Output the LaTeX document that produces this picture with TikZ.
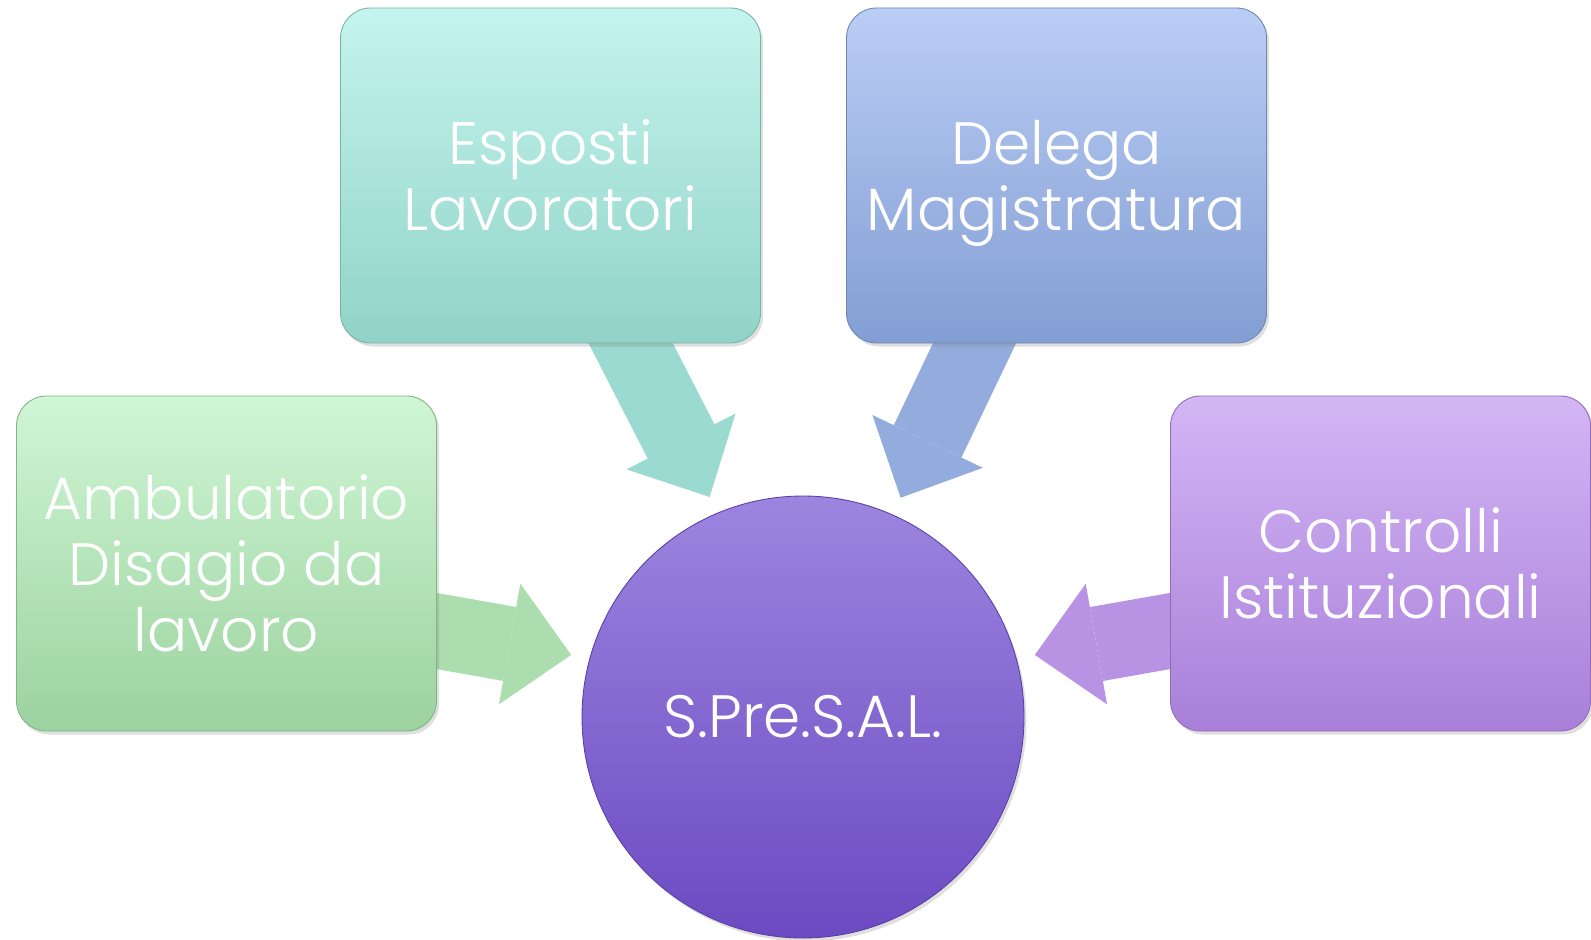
\documentclass[tikz,border=0pt]{standalone}
\usepackage{fontspec}
\setmainfont{Poppins}[UprightFont=* Light]
\usetikzlibrary{arrows.meta,calc,shadows,backgrounds}

\definecolor{ambtop}{HTML}{CFF6D5}
\definecolor{ambbot}{HTML}{9CD29F}
\definecolor{esptop}{HTML}{C4F4EE}
\definecolor{espbot}{HTML}{91D3C8}
\definecolor{deltop}{HTML}{BACDF5}
\definecolor{delbot}{HTML}{839ED3}
\definecolor{contop}{HTML}{D3B6F5}
\definecolor{conbot}{HTML}{A97FD9}
\definecolor{sprtop}{HTML}{9C85DF}
\definecolor{sprbot}{HTML}{6C4AC2}

\begin{document}
\begin{tikzpicture}[
    box/.style 2 args={
        rounded corners=0.6cm, minimum width=8.4cm, minimum height=6.7cm,
        top color=#1, bottom color=#2, draw=#2!85!black, line width=0.5pt,
        drop shadow={opacity=0.25, shadow xshift=0.05cm, shadow yshift=-0.07cm}
    },
    hub/.style={
        circle, minimum size=8.84cm, top color=sprtop, bottom color=sprbot,
        draw=sprbot!85!black, line width=0.5pt,
        drop shadow={opacity=0.25, shadow xshift=0.05cm, shadow yshift=-0.07cm}
    },
    fat/.style={
        draw=#1, line width=1.5cm,
        -{Triangle[width=2.45cm, length=1.25cm, line width=0pt]}
    },
    nodes={align=center, text=white, font=\fontsize{34}{37.6}\selectfont}
    ]
    \useasboundingbox (0,0) rectangle (31.82,-18.8);

    % centre and the four sources
    \node [hub] (spr) at (16.06,-14.34) {S.Pre.S.A.L.};
    \node [box={ambtop}{ambbot}] (amb) at (4.53,-11.27) {Ambulatorio\\Disagio da\\lavoro};
    \node [box={esptop}{espbot}] (esp) at (11.01,-3.51) {Esposti\\Lavoratori};
    \node [box={deltop}{delbot}] (del) at (21.13,-3.51) {Delega\\\smash{Magistratura}};
    \node [box={contop}{conbot}] (con) at (27.61,-11.27) {Controlli\\Istituzionali};

    % block arrows
    \begin{scope}[on background layer]
        \draw [fat=ambbot!70!ambtop] ([shift={(-0.4,-1.28)}]amb.east)
            -- ($(spr.center)!4.8cm!(spr.165)$);
        \draw [fat=espbot!80!esptop] ([shift={(1.4,0.4)}]esp.south)
            -- ($(spr.center)!4.78cm!(spr.113)$);
        \draw [fat=delbot!70!deltop] ([shift={(-1.45,0.4)}]del.south)
            -- ($(spr.center)!4.8cm!(spr.66)$);
        \draw [fat=conbot!65!contop] ([shift={(0.4,-1.28)}]con.west)
            -- ($(spr.center)!4.8cm!(spr.15)$);
    \end{scope}
\end{tikzpicture}
\end{document}
